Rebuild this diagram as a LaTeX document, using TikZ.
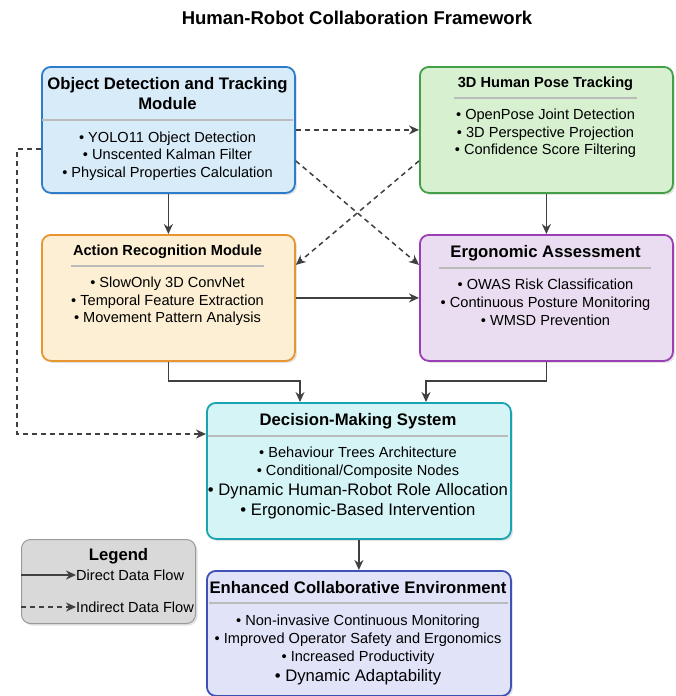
\documentclass[tikz,border=0pt]{standalone}
\usepackage{fontspec}
\setmainfont{Liberation Sans}
\usetikzlibrary{arrows.meta,shadows,calc}
\definecolor{objfill}{HTML}{D8EBF8}\definecolor{objdraw}{HTML}{2B7DCB}
\definecolor{posefill}{HTML}{D6F0D0}\definecolor{posedraw}{HTML}{43A047}
\definecolor{actfill}{HTML}{FDEFD3}\definecolor{actdraw}{HTML}{E69530}
\definecolor{ergfill}{HTML}{EADDF1}\definecolor{ergdraw}{HTML}{9B3FB5}
\definecolor{decfill}{HTML}{D5F4F6}\definecolor{decdraw}{HTML}{19A4B4}
\definecolor{enhfill}{HTML}{E1E3F8}\definecolor{enhdraw}{HTML}{3F51B5}
\definecolor{legfill}{HTML}{D9D9D9}\definecolor{legdraw}{HTML}{9A9A9A}
\definecolor{flowcol}{HTML}{404040}
\definecolor{sepcol}{HTML}{BBBBBB}
\newcommand{\fsbig}{\fontsize{16.7}{19}\selectfont}
\newcommand{\fssmall}{\fontsize{14.6}{17}\selectfont}
\begin{document}
\begin{tikzpicture}[x=1pt,y=-1pt,
  box/.style={draw, line width=1.8pt, rounded corners=9pt, anchor=north west, inner sep=0pt,
    drop shadow={shadow xshift=2pt, shadow yshift=-2pt, opacity=0.22}},
  txt/.style={anchor=base, inner sep=0pt, text=black},
  ttl/.style={txt, font=\bfseries},
  sepline/.style={draw=sepcol, line width=1.4pt},
  flow/.style={draw=flowcol, line width=1.5pt, -{Stealth[length=10pt,width=9pt]}},
  dflow/.style={flow, dash pattern=on 5pt off 4pt}]
\useasboundingbox (0,0) rectangle (676,696);
\fill[white] (0,0) rectangle (676,696);

\node[ttl, font=\bfseries\fontsize{18.5}{21}\selectfont] (main) at (357,24) {Human-Robot Collaboration Framework};

% boxes
\node[box, fill=objfill, draw=objdraw, minimum width=253pt, minimum height=126pt] (obj) at (41,66) {};
\node[box, fill=posefill, draw=posedraw, minimum width=253pt, minimum height=126pt] (pose) at (419,66) {};
\node[box, fill=actfill, draw=actdraw, minimum width=253pt, minimum height=126pt] (act) at (41,234) {};
\node[box, fill=ergfill, draw=ergdraw, minimum width=253pt, minimum height=126pt] (erg) at (419,234) {};
\node[box, fill=decfill, draw=decdraw, minimum width=304pt, minimum height=136pt] (dec) at (206,402) {};
\node[box, fill=enhfill, draw=enhdraw, minimum width=304pt, minimum height=125pt] (enh) at (206,570) {};
\node[box, fill=legfill, draw=legdraw, line width=1pt, minimum width=174pt, minimum height=84pt, drop shadow={shadow xshift=0pt, shadow yshift=0pt, opacity=0}] (leg) at (21,539) {};

% separators
\draw[sepline] (42,120) -- (293,120);
\draw[sepline] (454,98) -- (637,98);
\draw[sepline] (71,266) -- (264,266);
\draw[sepline] (439,268) -- (651,268);
\draw[sepline] (208,436) -- (508,436);
\draw[sepline] (209,603) -- (508,603);

% object detection
\node[ttl, font=\bfseries\fsbig] (o1) at (167.5,89) {Object Detection and Tracking};
\node[ttl, font=\bfseries\fsbig] (o2) at (167.5,109) {Module};
\node[txt, font=\fssmall] (o3) at (167.5,142) {• YOLO11 Object Detection};
\node[txt, font=\fssmall] (o4) at (167.5,159.5) {• Unscented Kalman Filter};
\node[txt, font=\fssmall] (o5) at (167.5,177) {• Physical Properties Calculation};

% pose
\node[ttl, font=\bfseries\fssmall] (p1) at (545.5,87) {3D Human Pose Tracking};
\node[txt, font=\fssmall] (p2) at (545.5,119.5) {• OpenPose Joint Detection};
\node[txt, font=\fssmall] (p3) at (545.5,137) {• 3D Perspective Projection};
\node[txt, font=\fssmall] (p4) at (545.5,154) {• Confidence Score Filtering};

% action
\node[ttl, font=\bfseries\fssmall] (a1) at (167.5,255) {Action Recognition Module};
\node[txt, font=\fssmall] (a2) at (167.5,287.5) {• SlowOnly 3D ConvNet};
\node[txt, font=\fssmall] (a3) at (167.5,305) {• Temporal Feature Extraction};
\node[txt, font=\fssmall] (a4) at (167.5,322) {• Movement Pattern Analysis};

% ergonomic
\node[ttl, font=\bfseries\fsbig] (e1) at (545.5,257) {Ergonomic Assessment};
\node[txt, font=\fssmall] (e2) at (545.5,289.5) {• OWAS Risk Classification};
\node[txt, font=\fssmall] (e3) at (545.5,307) {• Continuous Posture Monitoring};
\node[txt, font=\fssmall] (e4) at (545.5,325) {• WMSD Prevention};

% decision
\node[ttl, font=\bfseries\fsbig] (d1) at (358,425) {Decision-Making System};
\node[txt, font=\fssmall] (d2) at (358,457) {• Behaviour Trees Architecture};
\node[txt, font=\fssmall] (d3) at (358,475) {• Conditional/Composite Nodes};
\node[txt, font=\fsbig] (d4) at (358,495) {• Dynamic Human-Robot Role Allocation};
\node[txt, font=\fsbig] (d5) at (358,515) {• Ergonomic-Based Intervention};

% enhanced
\node[ttl, font=\bfseries\fsbig] (n1) at (358,593) {Enhanced Collaborative Environment};
\node[txt, font=\fssmall] (n2) at (358,625) {• Non-invasive Continuous Monitoring};
\node[txt, font=\fssmall] (n3) at (358,643) {• Improved Operator Safety and Ergonomics};
\node[txt, font=\fssmall] (n4) at (358,661) {• Increased Productivity};
\node[txt, font=\fsbig] (n5) at (358,681) {• Dynamic Adaptability};

% legend
\node[ttl, font=\bfseries\fsbig] (lg) at (118.5,560) {Legend};
\node[txt, font=\fssmall, anchor=base west] (ld) at (76,580) {Direct Data Flow};
\node[txt, font=\fssmall, anchor=base west] (li) at (76,612) {Indirect Data Flow};
\coordinate (la1) at (21,575);
\coordinate (la2) at (21,607);
\draw[flow] (la1) -- (la1 -| ld.west);
\draw[dflow] (la2) -- (la2 -| li.west);

% connectors
\draw[flow] (obj.south) -- (act.north);
\draw[flow] (pose.south) -- (erg.north);
\draw[dflow] (obj.east) -- (pose.west);
\draw[dflow] ($(obj.east)+(0,31)$) -- ($(erg.west)+(0,-33)$);
\draw[dflow] ($(pose.west)+(0,31)$) -- ($(act.east)+(0,-33)$);
\draw[flow] (act.east) -- (erg.west);
\coordinate (j1) at (300,381);
\coordinate (j2) at (426,381);
\draw[flow] (act.south) |- (j1) -- (j1 |- dec.north);
\draw[flow] (erg.south) |- (j2) -- (j2 |- dec.north);
\coordinate (l1) at (17,149);
\coordinate (l2) at (17,434);
\draw[dflow] (obj.west |- l1) -- (l1) -- (l2) -- (l2 -| dec.west);
\draw[flow] (dec.south) -- (enh.north);
\end{tikzpicture}
\end{document}
